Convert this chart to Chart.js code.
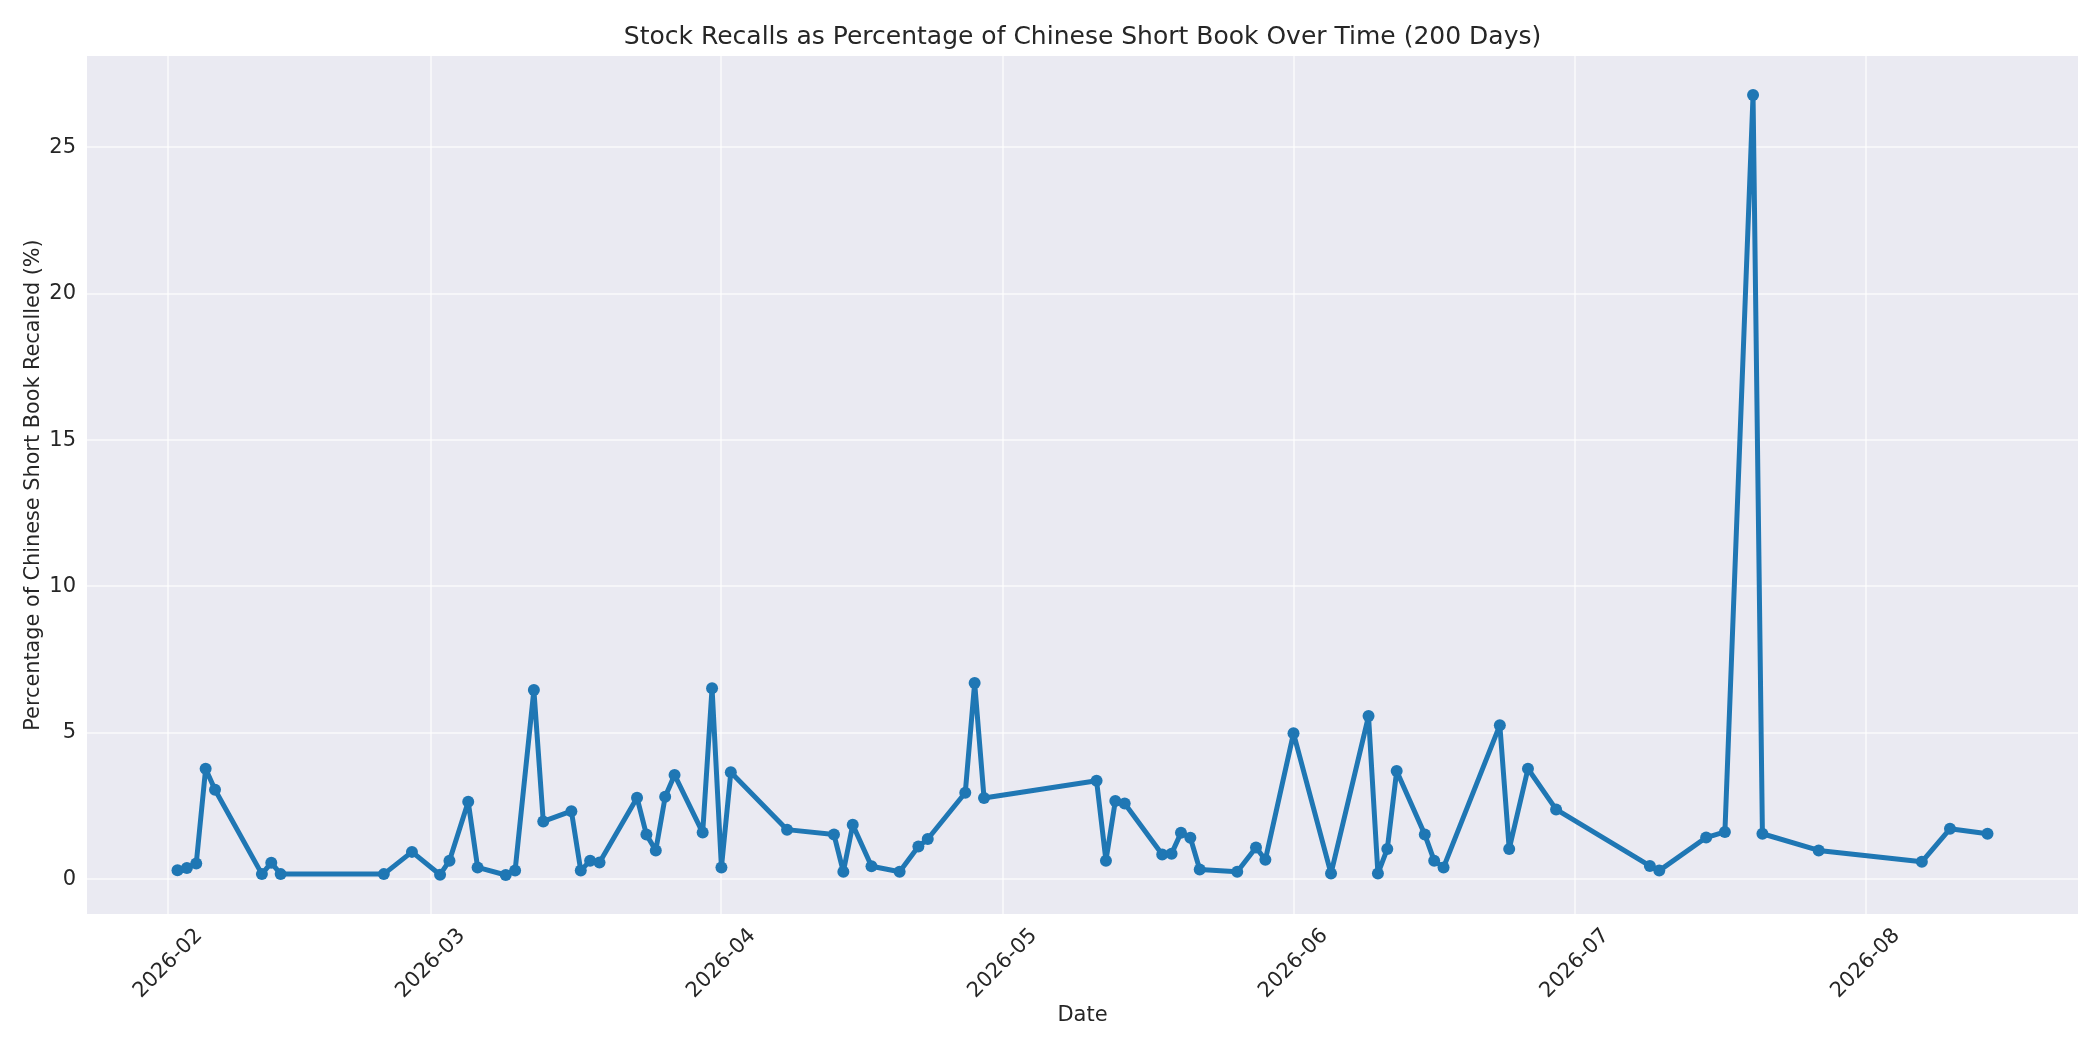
<!DOCTYPE html>
<html>
<head>
<meta charset="utf-8">
<title>Stock Recalls as Percentage of Chinese Short Book</title>
<script src="https://cdn.jsdelivr.net/npm/chart.js@4.4.1/dist/chart.umd.min.js"></script>
<style>
    html, body { margin: 0; padding: 0; background: #ffffff; }
    #wrap { width: 2100px; height: 1050px; }
</style>
</head>
<body>
<div id="wrap"><canvas id="recallChart" width="2100" height="1050"></canvas></div>
<script>
// Data
const dates = [
    '2026-02-02', '2026-02-03', '2026-02-04', '2026-02-05', '2026-02-06',
    '2026-02-11', '2026-02-12', '2026-02-13', '2026-02-24', '2026-02-27',
    '2026-03-02', '2026-03-03', '2026-03-05', '2026-03-06', '2026-03-09',
    '2026-03-10', '2026-03-12', '2026-03-13', '2026-03-16', '2026-03-17',
    '2026-03-18', '2026-03-19', '2026-03-23', '2026-03-24', '2026-03-25',
    '2026-03-26', '2026-03-27', '2026-03-30', '2026-03-31',
    '2026-04-01', '2026-04-02', '2026-04-08', '2026-04-13', '2026-04-14',
    '2026-04-15', '2026-04-17', '2026-04-20', '2026-04-22', '2026-04-23',
    '2026-04-27', '2026-04-28', '2026-04-29',
    '2026-05-11', '2026-05-12', '2026-05-13', '2026-05-14', '2026-05-18',
    '2026-05-19', '2026-05-20', '2026-05-21', '2026-05-22', '2026-05-26',
    '2026-05-28', '2026-05-29',
    '2026-06-01', '2026-06-05', '2026-06-09', '2026-06-10', '2026-06-11',
    '2026-06-12', '2026-06-15', '2026-06-16', '2026-06-17', '2026-06-23',
    '2026-06-24', '2026-06-26', '2026-06-29',
    '2026-07-09', '2026-07-10', '2026-07-15', '2026-07-17', '2026-07-20',
    '2026-07-21', '2026-07-27',
    '2026-08-07', '2026-08-10', '2026-08-14'
];

const recallPct = [
    0.30, 0.38, 0.53, 3.77, 3.05,
    0.17, 0.56, 0.17, 0.17, 0.93,
    0.15, 0.63, 2.64, 0.40, 0.14,
    0.29, 6.46, 1.97, 2.32, 0.29,
    0.63, 0.57, 2.78, 1.52, 0.98,
    2.81, 3.56, 1.59, 6.52,
    0.40, 3.65, 1.69, 1.52, 0.25,
    1.86, 0.44, 0.25, 1.11, 1.37,
    2.95, 6.70, 2.77,
    3.36, 0.63, 2.67, 2.58, 0.84,
    0.87, 1.58, 1.41, 0.33, 0.25,
    1.08, 0.66,
    4.98, 0.19, 5.57, 0.19, 1.03,
    3.69, 1.52, 0.63, 0.40, 5.26,
    1.03, 3.77, 2.38,
    0.45, 0.29, 1.42, 1.61, 26.79,
    1.55, 0.98,
    0.59, 1.72, 1.55
];

const monthTicks = ['2026-02', '2026-03', '2026-04', '2026-05', '2026-06', '2026-07', '2026-08'];
const yTicks = [0, 5, 10, 15, 20, 25];

const TITLE = 'Stock Recalls as Percentage of Chinese Short Book Over Time (200 Days)';
const FONT = "'DejaVu Sans', sans-serif";
const TEXT_COLOR = '#262626';
const LINE_COLOR = '#1f77b4';
const GRID_COLOR = 'rgba(255,255,255,0.55)';

// days since 2026-02-01 (no date adapter available, so a linear axis is used)
const ORIGIN = Date.UTC(2026, 1, 1);
function dayNum(str) {
    const p = str.split('-').map(Number);
    return (Date.UTC(p[0], p[1] - 1, p[2] || 1) - ORIGIN) / 86400000;
}

const points = dates.map((d, i) => ({ x: dayNum(d), y: recallPct[i] }));

// matplotlib style 5% margins
const xs = points.map(p => p.x);
const xMinData = Math.min(...xs), xMaxData = Math.max(...xs);
const xPad = (xMaxData - xMinData) * 0.05;
const yMinData = Math.min(...recallPct), yMaxData = Math.max(...recallPct);
const yPad = (yMaxData - yMinData) * 0.05;

// seaborn-ish grey plot background
const plotBackground = {
    id: 'plotBackground',
    beforeDraw(chart) {
        const { ctx, chartArea } = chart;
        ctx.save();
        ctx.fillStyle = '#EAEAF2';
        ctx.fillRect(chartArea.left, chartArea.top, chartArea.right - chartArea.left, chartArea.bottom - chartArea.top);
        ctx.restore();
    }
};

// title centred over the plot area, and rotated month labels centred under each tick
const axesText = {
    id: 'axesText',
    afterDraw(chart) {
        const { ctx, chartArea } = chart;
        const xScale = chart.scales.x;
        ctx.save();
        ctx.fillStyle = TEXT_COLOR;

        ctx.font = '25px ' + FONT;
        ctx.textAlign = 'center';
        ctx.textBaseline = 'middle';
        ctx.fillText(TITLE, (chartArea.left + chartArea.right) / 2, 37.5);

        ctx.font = '21px ' + FONT;
        xScale.ticks.forEach((tick, i) => {
            const label = monthTicks[i];
            const w = ctx.measureText(label).width;
            const box = (w + 21 * 0.75) / Math.SQRT2;
            const px = xScale.getPixelForValue(tick.value);
            const py = chartArea.bottom + 13 + box / 2;
            ctx.save();
            ctx.translate(px, py);
            ctx.rotate(-Math.PI / 4);
            ctx.fillText(label, 0, 0);
            ctx.restore();
        });
        ctx.restore();
    }
};

const ctx = document.getElementById('recallChart');
new Chart(ctx, {
    type: 'line',
    data: {
        datasets: [{
            label: 'Recall %',
            data: points,
            borderColor: LINE_COLOR,
            backgroundColor: LINE_COLOR,
            borderWidth: 5,
            borderJoinStyle: 'round',
            borderCapStyle: 'round',
            pointRadius: 6,
            pointBorderWidth: 0,
            pointBackgroundColor: LINE_COLOR,
            tension: 0,
            fill: false
        }]
    },
    options: {
        responsive: false,
        maintainAspectRatio: false,
        devicePixelRatio: 1,
        animation: false,
        layout: { padding: { left: 0, right: 22, top: 56, bottom: 0 } },
        plugins: {
            legend: { display: false },
            tooltip: { enabled: false },
            title: { display: false }
        },
        scales: {
            x: {
                type: 'linear',
                min: xMinData - xPad,
                max: xMaxData + xPad,
                afterBuildTicks(scale) {
                    scale.ticks = monthTicks.map(m => ({ value: dayNum(m + '-01') }));
                },
                afterFit(scale) { scale.height = 136; },
                ticks: { display: false },
                grid: { color: GRID_COLOR, lineWidth: 2, drawTicks: false },
                border: { display: false },
                title: {
                    display: true,
                    text: 'Date',
                    color: TEXT_COLOR,
                    font: { family: FONT, size: 21 },
                    padding: { top: 0, bottom: 22 }
                }
            },
            y: {
                type: 'linear',
                min: yMinData - yPad,
                max: yMaxData + yPad,
                afterBuildTicks(scale) {
                    scale.ticks = yTicks.map(v => ({ value: v }));
                },
                afterFit(scale) { scale.width = 87; },
                ticks: {
                    color: TEXT_COLOR,
                    font: { family: FONT, size: 21 },
                    padding: 11,
                    callback: v => String(v)
                },
                grid: { color: GRID_COLOR, lineWidth: 2, drawTicks: false },
                border: { display: false },
                title: {
                    display: true,
                    text: 'Percentage of Chinese Short Book Recalled (%)',
                    color: TEXT_COLOR,
                    font: { family: FONT, size: 20.8 },
                    padding: { top: 21, bottom: 0 }
                }
            }
        }
    },
    plugins: [plotBackground, axesText]
});
</script>
</body>
</html>
